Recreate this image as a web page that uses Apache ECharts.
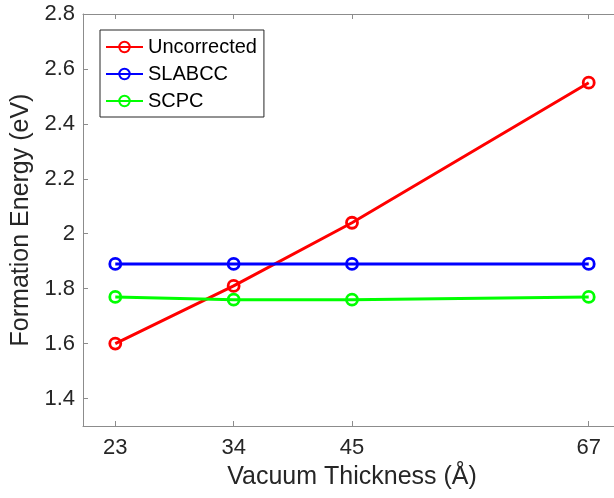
<!DOCTYPE html>
<html>
<head>
<meta charset="utf-8">
<script src="https://cdn.jsdelivr.net/npm/echarts@6/dist/echarts.min.js"></script>
<style>
  html, body { margin: 0; padding: 0; background: #fff; overflow: hidden; }
  /* the plot box runs slightly past the right edge of the picture */
  #chart { width: 621px; height: 498px; }
</style>
</head>
<body>
<div id="chart"></div>
<script>
// vacuum thickness (Å)
const thickness = [23, 34, 45, 67]
const uncorrected = [1.60, 1.81, 2.04, 2.55]
const slabcc = [1.89, 1.89, 1.89, 1.89]
const scpc = [1.77, 1.76, 1.76, 1.77]
const yTicks = [1.4, 1.6, 1.8, 2.0, 2.2, 2.4, 2.6, 2.8]

const font = 'Liberation Sans, Arial, Helvetica, sans-serif'
const textColor = '#262626'
const axisColor = '#8c8c8c'

const chart = echarts.init(document.getElementById('chart'))

const makeSeries = (name, values, color) => ({
  type: 'line',
  name: name,
  data: thickness.map((x, i) => [x, values[i]]),
  symbol: 'circle',
  symbolSize: 11,
  lineStyle: { color: color, width: 3 },
  itemStyle: { color: 'rgba(255,255,255,0)', borderColor: color, borderWidth: 2.8 },
  emphasis: { disabled: true },
  z: 3
})

chart.setOption({
  animation: false,
  backgroundColor: '#fff',
  textStyle: { fontFamily: font },
  grid: { left: 83, top: 14, right: 0, bottom: 72 },
  legend: {
    orient: 'vertical',
    left: 100,
    top: 30,
    padding: [7, 7, 6, 5],
    itemGap: 7,
    itemWidth: 37,
    itemHeight: 13,
    borderColor: textColor,
    borderWidth: 1,
    textStyle: { fontFamily: font, fontSize: 20, color: '#000' },
    data: ['Uncorrected', 'SLABCC', 'SCPC']
  },
  xAxis: [
    {
      type: 'value',
      min: 20,
      max: 70,
      name: 'Vacuum Thickness (Å)',
      nameLocation: 'middle',
      nameGap: 39,
      nameTextStyle: { fontFamily: font, fontSize: 25, color: textColor },
      axisLine: { show: true, lineStyle: { color: axisColor, width: 1 } },
      axisTick: { show: true, inside: true, length: 5, lineStyle: { color: axisColor }, customValues: thickness },
      axisLabel: { fontFamily: font, fontSize: 22, color: textColor, margin: 11, customValues: thickness },
      splitLine: { show: false }
    },
    {
      type: 'value',
      position: 'top',
      min: 20,
      max: 70,
      axisLine: { show: true, lineStyle: { color: axisColor, width: 1 } },
      axisTick: { show: true, inside: true, length: 5, lineStyle: { color: axisColor }, customValues: thickness },
      axisLabel: { show: false },
      splitLine: { show: false }
    }
  ],
  yAxis: {
    type: 'value',
    min: 1.3,
    max: 2.8,
    name: 'Formation Energy (eV)',
    nameLocation: 'middle',
    nameGap: 42,
    nameTextStyle: { fontFamily: font, fontSize: 25, color: textColor },
    axisLine: { show: true, lineStyle: { color: axisColor, width: 1 } },
    axisTick: { show: true, inside: true, length: 5, lineStyle: { color: axisColor }, customValues: yTicks },
    axisLabel: {
      fontFamily: font,
      fontSize: 22,
      color: textColor,
      margin: 8,
      customValues: yTicks,
      formatter: v => String(Math.round(v * 10) / 10)
    },
    splitLine: { show: false }
  },
  series: [
    makeSeries('Uncorrected', uncorrected, '#ff0000'),
    makeSeries('SLABCC', slabcc, '#0000ff'),
    makeSeries('SCPC', scpc, '#00ff00')
  ]
})
</script>
</body>
</html>
